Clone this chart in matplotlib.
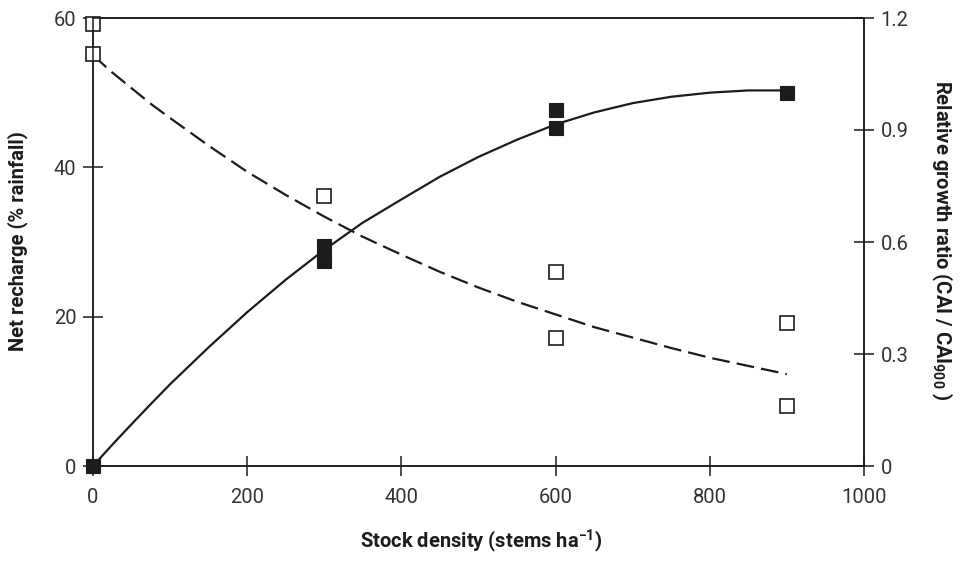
import matplotlib
matplotlib.use("Agg")
import matplotlib.pyplot as plt

# ---- data ----
density_open = [0, 0, 300, 600, 600, 900, 900]
recharge = [59.2, 55.2, 36.2, 26.0, 17.1, 19.1, 8.05]

density_filled = [0, 300, 300, 600, 600, 900]
growth_ratio = [0.0, 0.59, 0.55, 0.953, 0.905, 1.0]

# trend lines
trend_x = [0, 25, 50, 75, 100, 150, 200, 250, 300, 350, 400, 450, 500, 550,
           600, 650, 700, 750, 800, 850, 900]
recharge_trend = [55.0, 52.7, 50.6, 48.5, 46.6, 42.9, 39.4, 36.3, 33.4, 30.7,
                  28.3, 26.0, 23.9, 22.0, 20.3, 18.6, 17.2, 15.8, 14.5, 13.4,
                  12.3]
growth_trend = [0.0, 0.057, 0.112, 0.166, 0.219, 0.318, 0.412, 0.499, 0.579,
                0.652, 0.714, 0.775, 0.828, 0.874, 0.915, 0.947, 0.972,
                0.989, 1.000, 1.006, 1.006]

x_ticks = [0, 200, 400, 600, 800, 1000]
left_ticks = [0, 20, 40, 60]
right_ticks = [0, 0.3, 0.6, 0.9, 1.2]
right_ticklabels = ["0", "0.3", "0.6", "0.9", "1.2"]

plt.rcParams["font.family"] = ["Roboto", "DejaVu Sans"]
plt.rcParams["mathtext.fontset"] = "custom"
plt.rcParams["mathtext.rm"] = "Roboto:bold"
plt.rcParams["mathtext.it"] = "Roboto:bold"
plt.rcParams["mathtext.bf"] = "Roboto:bold"
plt.rcParams["mathtext.default"] = "regular"

ink = "#1c1c1c"
fig = plt.figure(figsize=(9.62, 5.62), dpi=100)
ax = fig.add_axes([93 / 962, 1 - 466 / 562, (864 - 93) / 962, (466 - 18) / 562])
ax2 = ax.twinx()

ax.set_xlim(0, 1000)
ax.set_ylim(0, 60)
ax2.set_ylim(0, 1.2)

ax.plot(trend_x, recharge_trend, color=ink, lw=1.6, dashes=(8, 3.2), zorder=2)
ax.plot(density_open, recharge, linestyle="none", marker="s", ms=9.5,
        mfc="white", mec=ink, mew=1.2, clip_on=False, zorder=3)

ax2.plot(trend_x, growth_trend, color=ink, lw=1.6, zorder=2)
ax2.plot(density_filled, growth_ratio, linestyle="none", marker="s", ms=9.5,
         mfc=ink, mec=ink, mew=0.8, clip_on=False, zorder=3)

for a in (ax, ax2):
    for s in a.spines.values():
        s.set_color(ink)
        s.set_linewidth(1.1)

ax.set_xticks(x_ticks)
ax.set_yticks(left_ticks)
ax2.set_yticks(right_ticks)
ax2.set_yticklabels(right_ticklabels)

ax.tick_params(axis="both", direction="inout", length=14, width=1.1,
               color=ink, labelsize=14.5, labelcolor="#333333", pad=5)
ax.tick_params(axis="x", pad=9)
ax2.tick_params(axis="y", direction="inout", length=14, width=1.1,
                color=ink, labelsize=14.5, labelcolor="#333333", pad=5)

fig.text(481 / 962, 1 - 541 / 562, "Stock density (stems ha$^{-1}$)",
         ha="center", va="center", fontsize=14.5, fontweight="bold", color=ink)
fig.text(18 / 962, 1 - 241 / 562, "Net recharge (% rainfall)",
         ha="center", va="center", rotation=90, fontsize=14.5,
         fontweight="bold", color=ink)
fig.text(942 / 962, 1 - 240 / 562, "Relative growth ratio (CAI / CAI$_{900}$ )",
         ha="center", va="center", rotation=270, fontsize=14.5,
         fontweight="bold", color=ink)

fig.savefig("out.png", dpi=100)
